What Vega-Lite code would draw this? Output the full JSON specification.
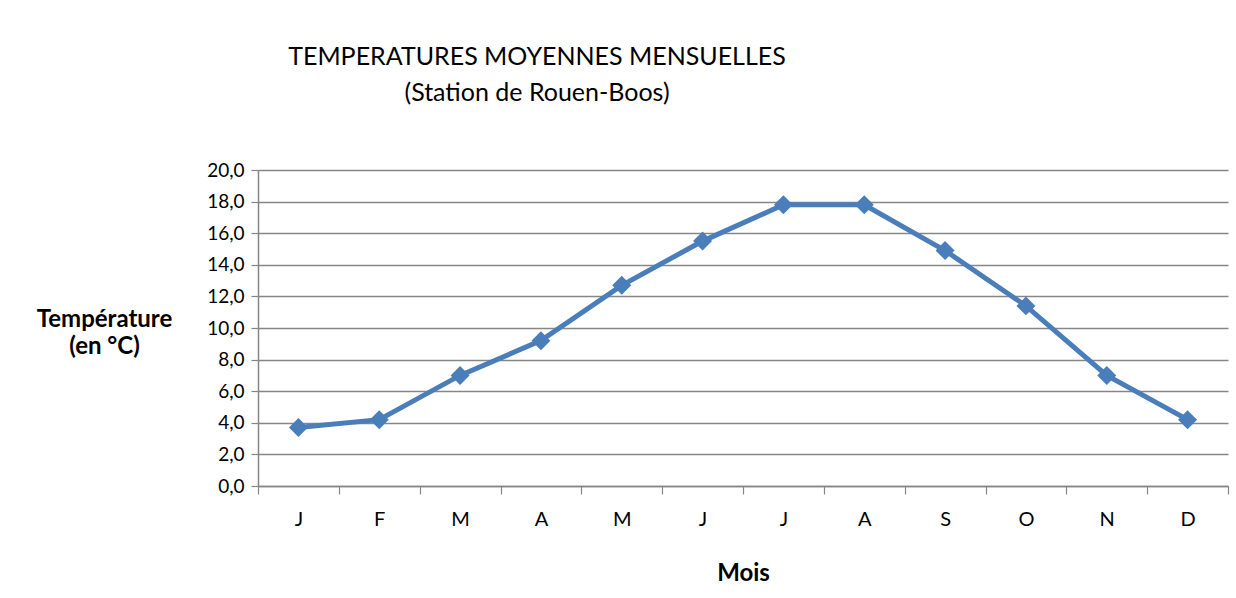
{
  "$schema": "https://vega.github.io/schema/vega-lite/v6.json",
  "autosize": "none",
  "width": 970,
  "height": 316,
  "padding": {"left": 258, "top": 170, "right": 8, "bottom": 112},
  "background": "white",
  "title": {
    "text": ["TEMPERATURES MOYENNES MENSUELLES", "(Station de Rouen-Boos)"],
    "anchor": "start",
    "frame": "group",
    "align": "center",
    "dx": 279,
    "orient": "top",
    "offset": 55,
    "font": "Lato",
    "fontSize": 25,
    "fontWeight": "normal",
    "lineHeight": 36,
    "color": "#000000"
  },
  "data": {
    "values": [
      {"n": 1, "mois": "J", "temp": 3.7},
      {"n": 2, "mois": "F", "temp": 4.2},
      {"n": 3, "mois": "M", "temp": 7.0},
      {"n": 4, "mois": "A", "temp": 9.2},
      {"n": 5, "mois": "M", "temp": 12.7},
      {"n": 6, "mois": "J", "temp": 15.5},
      {"n": 7, "mois": "J", "temp": 17.8},
      {"n": 8, "mois": "A", "temp": 17.8},
      {"n": 9, "mois": "S", "temp": 14.9},
      {"n": 10, "mois": "O", "temp": 11.4},
      {"n": 11, "mois": "N", "temp": 7.0},
      {"n": 12, "mois": "D", "temp": 4.2}
    ]
  },
  "encoding": {
    "x": {
      "field": "n",
      "type": "ordinal",
      "sort": null,
      "scale": {"paddingInner": 0, "paddingOuter": 0},
      "axis": {
        "title": "Mois",
        "labelExpr": "['J','F','M','A','M','J','J','A','S','O','N','D'][datum.value - 1]",
        "labelAngle": 0,
        "labelFontSize": 20,
        "tickBand": "extent",
        "tickSize": 8,
        "labelPadding": 15,
        "grid": false,
        "titleY": 94,
        "titleBaseline": "alphabetic"
      }
    },
    "y": {
      "field": "temp",
      "type": "quantitative",
      "scale": {"domain": [0, 20], "nice": false, "zero": true},
      "axis": {
        "title": ["Température", "(en °C)"],
        "titleAngle": 0,
        "titleAlign": "center",
        "titleX": -154,
        "titleY": 156,
        "titleBaseline": "alphabetic",
        "titleLineHeight": 27,
        "values": [0, 2, 4, 6, 8, 10, 12, 14, 16, 18, 20],
        "labelExpr": "replace(format(datum.value, '.1f'), '.', ',')",
        "tickSize": 7,
        "labelPadding": 7,
        "grid": true
      }
    }
  },
  "layer": [
    {"mark": {"type": "line", "color": "#4a7ebb", "strokeWidth": 5}},
    {"mark": {"type": "point", "shape": "diamond", "filled": true, "opacity": 1, "color": "#4a7ebb", "size": 360}}
  ],
  "config": {
    "view": {"stroke": null},
    "axis": {
      "labelFont": "Lato",
      "labelFontSize": 19,
      "labelColor": "#000000",
      "titleFont": "Lato",
      "titleFontSize": 24,
      "titleFontWeight": "bold",
      "titleColor": "#000000",
      "domainColor": "#868686",
      "domainWidth": 1.5,
      "tickColor": "#868686",
      "tickWidth": 1.2,
      "gridColor": "#868686",
      "gridWidth": 1.5
    }
  }
}
